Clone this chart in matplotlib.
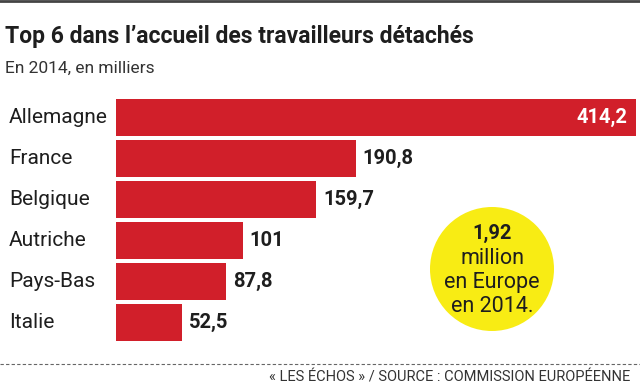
import matplotlib.pyplot as plt
from matplotlib.patches import Ellipse
from matplotlib.lines import Line2D

# Données
pays = ["Allemagne", "France", "Belgique", "Autriche", "Pays-Bas", "Italie"]
valeurs = [414.2, 190.8, 159.7, 101, 87.8, 52.5]
etiquettes = ["414,2", "190,8", "159,7", "101", "87,8", "52,5"]

W, H = 640, 387
rouge = "#d11f2a"
jaune = "#f8ec14"
texte = "#1e1e1e"

plt.rcParams['font.family'] = ['Roboto', 'DejaVu Sans']

fig = plt.figure(figsize=(W / 100, H / 100), dpi=100)
fig.patch.set_facecolor("white")

# Axes des barres (coordonnées en pixels -> fraction)
x0, x1 = 116, 636
y_top, y_bot = 97, 343
ax = fig.add_axes([x0 / W, 1 - y_bot / H, (x1 - x0) / W, (y_bot - y_top) / H])
ax.barh(range(len(pays)), valeurs, height=0.9, color=rouge)
ax.set_xlim(0, max(valeurs))
ax.set_ylim(len(pays) - 0.5, -0.5)
ax.axis("off")

pas = (y_bot - y_top) / len(pays)
for i, (v, lab) in enumerate(zip(valeurs, etiquettes)):
    if i == 0:
        ax.text(v - 7, i, lab, color="white", fontsize=14.5, fontweight="bold",
                ha="right", va="center")
    else:
        ax.text(v + 5.5, i, lab, color=texte, fontsize=14.5, fontweight="bold",
                ha="left", va="center")
    # noms des pays à gauche
    yc = y_top + (i + 0.5) * pas
    fig.text(9 / W, 1 - yc / H, pays[i], fontsize=15, color=texte, va="center")

# Titre et sous-titre
fig.text(5 / W, 1 - 37 / H, "Top 6 dans l\u2019accueil des travailleurs détachés",
         fontsize=16.5, fontweight="bold", color=texte, va="center")
fig.text(5 / W, 1 - 68 / H, "En 2014, en milliers", fontsize=12.5,
         color="#333333", va="center")

# Bulle jaune
cx, cy, r = 492, 269, 62
fig.patches.append(Ellipse((cx / W, 1 - cy / H), 2 * r / W, 2 * r / H,
                           transform=fig.transFigure, facecolor=jaune,
                           edgecolor="none"))
fig.text(cx / W, 1 - 233 / H, "1,92", fontsize=14.5, fontweight="bold",
         color=texte, ha="center", va="center")
for k, ligne in enumerate(["million", "en Europe", "en 2014."]):
    fig.text(cx / W, 1 - (258 + k * 24.5) / H, ligne, fontsize=15.5,
             color=texte, ha="center", va="center")

# Ligne pointillée et source
fig.lines.append(Line2D([0, 1], [1 - 364 / H, 1 - 364 / H], transform=fig.transFigure,
                        color="#666666", linewidth=0.8, linestyle=(0, (3, 2))))
fig.text(630 / W, 1 - 378 / H,
         "\u00ab LES ÉCHOS \u00bb / SOURCE : COMMISSION EUROPÉENNE",
         fontsize=10.5, color="#333333", ha="right", va="center")

# filet du haut
fig.lines.append(Line2D([0, 1], [1 - 1 / H, 1 - 1 / H], transform=fig.transFigure,
                        color="#444444", linewidth=2))

plt.savefig("out.png", dpi=100)
plt.close()
